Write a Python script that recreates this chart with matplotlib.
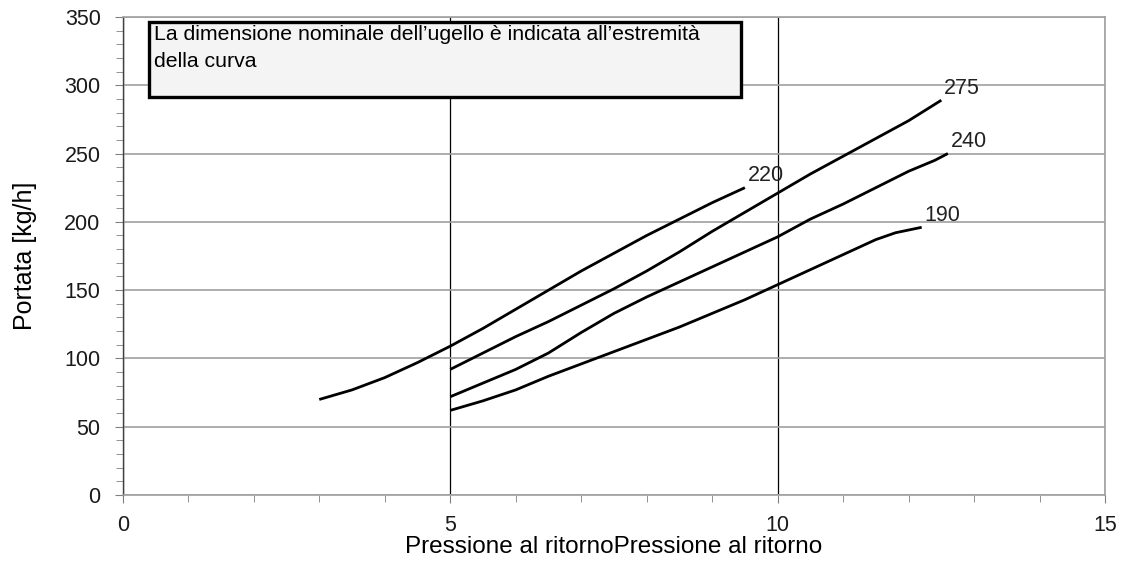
import matplotlib
matplotlib.use('Agg')
import matplotlib.pyplot as plt
from matplotlib.patches import Rectangle
from matplotlib.ticker import MultipleLocator

plt.rcParams['font.family'] = ['Liberation Sans', 'DejaVu Sans']

# curve data (pressure, flow) per nozzle size
x_220 = [3, 3.5, 4, 4.5, 5, 5.5, 6, 6.5, 7, 7.5, 8, 8.5, 9, 9.5]
y_220 = [70, 77, 86, 97, 109, 122, 136, 150, 164, 177, 190, 202, 214, 225]

x_275 = [5, 5.5, 6, 6.5, 7, 7.5, 8, 8.5, 9, 9.5, 10, 10.5, 11, 11.5, 12, 12.5]
y_275 = [92, 104, 116, 127, 139, 151, 164, 178, 193, 207, 221, 235, 248, 261, 274, 289]

x_240 = [5, 5.5, 6, 6.5, 7, 7.5, 8, 8.5, 9, 9.5, 10, 10.5, 11, 11.5, 12, 12.4, 12.6]
y_240 = [72, 82, 92, 104, 119, 133, 145, 156, 167, 178, 189, 202, 213, 225, 237, 245, 250]

x_190 = [5, 5.5, 6, 6.5, 7, 7.5, 8, 8.5, 9, 9.5, 10, 10.5, 11, 11.5, 11.8, 12.2]
y_190 = [62, 69, 77, 87, 96, 105, 114, 123, 133, 143, 154, 165, 176, 187, 192, 196]

curves = [
    ('220', x_220, y_220),
    ('275', x_275, y_275),
    ('240', x_240, y_240),
    ('190', x_190, y_190),
]

note = "La dimensione nominale dell\u2019ugello è indicata all\u2019estremità\ndella curva"

fig = plt.figure(figsize=(11.27, 5.62), dpi=100)
ax = fig.add_axes([0.109, 0.119, 0.8715, 0.851])

ax.set_xlim(0, 15)
ax.set_ylim(0, 350)
ax.xaxis.set_major_locator(MultipleLocator(5))
ax.xaxis.set_minor_locator(MultipleLocator(1))
ax.yaxis.set_major_locator(MultipleLocator(50))
ax.yaxis.set_minor_locator(MultipleLocator(10))

ax.grid(axis='y', which='major', color='#a0a0a0', lw=1.2)
ax.grid(axis='x', which='major', color='black', lw=0.9)
ax.set_axisbelow(True)

for name in ['top', 'right', 'bottom']:
    ax.spines[name].set_color('#a0a0a0')
    ax.spines[name].set_linewidth(1.2)
ax.spines['left'].set_color('#404040')
ax.spines['left'].set_linewidth(1.0)

ax.tick_params(which='both', direction='out', color='#808080', labelsize=15.5,
               labelcolor='#1a1a1a')
ax.tick_params(which='major', length=6)
ax.tick_params(which='minor', length=5)
ax.tick_params(axis='x', pad=8)
ax.tick_params(axis='y', pad=10)

for label, xs, ys in curves:
    ax.plot(xs, ys, color='black', lw=2, solid_capstyle='butt')
    ax.annotate(label, (xs[-1], ys[-1]), xytext=(2, 1), textcoords='offset points',
                fontsize=15.5, ha='left', va='bottom', color='#222222')

ax.set_xlabel('Pressione al ritornoPressione al ritorno', fontsize=17.5, labelpad=0)
ax.set_ylabel('Portata [kg/h]', fontsize=18, labelpad=20)

box = Rectangle((0.0265, 0.832), 0.603, 0.157, transform=ax.transAxes,
                facecolor='#f4f4f4', edgecolor='black', lw=2.4, zorder=5)
ax.add_patch(box)
ax.text(0.032, 0.984, note, transform=ax.transAxes, fontsize=15.3, va='top', ha='left',
        linespacing=1.55, zorder=6)

fig.savefig('out.png', dpi=100)
